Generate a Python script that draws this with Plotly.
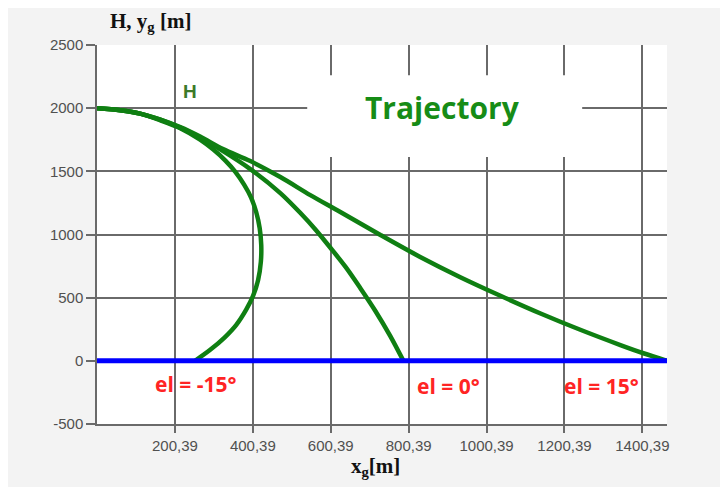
import plotly.graph_objects as go

# ---- data (metres) ----
el_m15_x = [0, 60, 111, 163, 214, 265, 299, 330, 355, 378, 396, 409, 418, 422, 421,
            414, 401, 383, 358, 327, 291, 252]
el_m15_y = [2000, 1984, 1957, 1904, 1842, 1751, 1672, 1585, 1498, 1395, 1292, 1178, 1051, 917, 783,
            640, 514, 403, 285, 182, 87, 0]

el_0_x = [0, 60, 111, 163, 214, 265, 324, 394, 471, 522, 561, 599, 638, 676, 715, 753, 787]
el_0_y = [2000, 1984, 1957, 1909, 1846, 1767, 1660, 1518, 1328, 1172, 1040, 897, 745, 577, 395, 198, 0]

el_15_x = [0, 60, 111, 163, 214, 265, 324, 394, 471, 548, 625, 728, 830, 933, 1036, 1139,
           1241, 1344, 1403, 1464]
el_15_y = [2000, 1984, 1957, 1909, 1850, 1775, 1676, 1581, 1455, 1312, 1178, 996, 822, 662, 515, 375,
           246, 125, 60, 0]

ground_x = [0.39, 1464]
ground_y = [0, 0]

x_tick_vals = [200.39, 400.39, 600.39, 800.39, 1000.39, 1200.39, 1400.39]
x_tick_text = ["200,39", "400,39", "600,39", "800,39", "1000,39", "1200,39", "1400,39"]
y_tick_vals = [-500, 0, 500, 1000, 1500, 2000, 2500]
y_tick_text = ["-500", "0", "500", "1000", "1500", "2000", "2500"]

x_range = [0.39, 1463.6]
y_range = [-500, 2500]

green = "#0f7f12"
red = "#ff2424"
grid = "#6a6a6a"

fig = go.Figure()
for xs, ys in [(el_m15_x, el_m15_y), (el_0_x, el_0_y), (el_15_x, el_15_y)]:
    fig.add_trace(go.Scatter(x=xs, y=ys, mode="lines",
                             line=dict(color=green, width=4.5, shape="spline", smoothing=0.9),
                             showlegend=False, hoverinfo="skip"))
fig.add_trace(go.Scatter(x=ground_x, y=ground_y, mode="lines",
                         line=dict(color="#0000ff", width=5), showlegend=False, hoverinfo="skip"))

tickfont = dict(family="Liberation Sans", size=15, color="#505050")
fig.update_xaxes(range=x_range, tickmode="array", tickvals=x_tick_vals, ticktext=x_tick_text,
                 showgrid=True, gridcolor=grid, gridwidth=1.5, zeroline=False,
                 showline=True, linecolor=grid, linewidth=1.5,
                 ticks="outside", ticklen=7, tickwidth=1.5, tickcolor=grid, tickfont=tickfont)
fig.update_yaxes(range=y_range, tickmode="array", tickvals=y_tick_vals, ticktext=y_tick_text,
                 showgrid=True, gridcolor=grid, gridwidth=1.5, zeroline=False,
                 showline=True, linecolor=grid, linewidth=1.5,
                 ticks="outside", ticklen=9, tickwidth=1.5, tickcolor=grid, tickfont=tickfont)

serif = dict(family="Liberation Serif", size=21, color="#111111")
lab = dict(family="Open Sans", size=21, color=red)
annotations = [
    dict(text="<b>H, y<sub>g</sub> [m]</b>", x=0.0933, y=1.061, font=serif),
    dict(text="<b>x<sub>g</sub>[m]</b>", x=0.488, y=-0.1125, font=serif),
    dict(text="<b>Trajectory</b>", x=0.6056, y=0.836,
         font=dict(family="Open Sans", size=30, color="#168c16")),
    dict(text="<b>H</b>", x=0.163, y=0.8775,
         font=dict(family="Liberation Sans", size=19, color="#3c7a2a")),
    dict(text="<b>el = -15°</b>", x=0.1741, y=0.1062, font=lab),
    dict(text="<b>el = 0°</b>", x=0.6161, y=0.0991, font=lab),
    dict(text="<b>el = 15°</b>", x=0.8845, y=0.0991, font=lab),
]
for a in annotations:
    a.update(xref="paper", yref="paper", showarrow=False, xanchor="center", yanchor="middle")

fig.update_layout(
    width=720, height=479,
    margin=dict(l=89, r=61, t=37, b=63),
    paper_bgcolor="#f3f3f3", plot_bgcolor="white",
    annotations=annotations,
    shapes=[dict(type="rect", xref="paper", yref="paper", x0=0.3688, x1=0.8512,
                 y0=0.7044, y1=0.9204, fillcolor="white", line=dict(width=0), layer="above")],
)

fig.write_html("out.html")
